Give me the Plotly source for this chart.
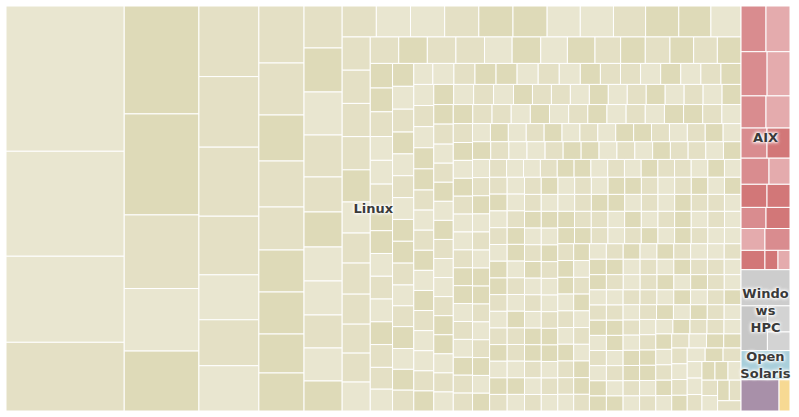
import plotly.graph_objects as go

# ---------------- data (Rmax, TFlop/s) ----------------
group_names = ["Linux", "AIX", "Windows HPC", "Open Solaris", "Super-UX", "Other"]
group_text = ["Linux", "AIX", "Windo<br>ws<br>HPC", "Open<br>Solaris", "", ""]

linux_big = [
    1759.0, 1271.0, 1042.0, 831.7,
    825.5, 772.7, 563.1, 478.2, 458.6,
    433.5, 433.2, 423.9, 360.0, 276.0, 282.0, 278.0,
    263.7, 240.6, 212.8, 212.8, 198.9, 194.3, 194.3, 180.4, 175.8,
    164.0, 171.9, 168.0, 164.0, 136.7, 136.7, 132.8, 132.8, 128.9, 128.9, 117.2,
    108.4, 108.4, 108.4, 108.4, 108.4, 108.4, 105.2, 105.2, 102.0, 105.2, 102.0, 95.6,
    95.6, 95.6, 95.6, 95.6, 92.5, 89.4, 86.4, 89.4, 86.4, 83.3, 83.3, 83.3, 77.1,
    77.5, 77.5, 77.5, 74.8, 77.5, 72.2, 74.8, 69.5, 66.8, 66.8, 64.2, 64.2, 64.2, 56.1,
    54.3, 56.5, 54.3, 54.3, 52.0, 54.3, 52.0, 52.0, 52.0, 52.0, 52.0, 52.0, 49.8, 49.8, 49.8,
]
linux_mid = [
    49.7, 49.7, 47.5, 47.5, 47.5, 47.5, 47.5, 47.5, 47.5, 45.3, 45.3, 47.5, 45.3, 45.3, 45.3, 41.0,
    45.3, 45.3, 45.3, 45.3, 45.3, 45.3, 45.3, 43.2, 43.2, 43.2, 43.2, 43.2, 43.2, 43.2, 43.2, 43.2,
    43.2, 43.2, 43.2, 43.2, 41.1, 41.1, 41.1, 41.1, 41.1, 41.1, 41.1, 41.1, 41.1, 41.1, 41.1, 41.1,
    41.1, 41.1, 41.1, 39.1, 39.1, 39.1, 39.1, 39.1, 39.1, 39.1, 39.1, 39.1, 39.1, 39.1, 39.1, 39.1,
    40.0, 38.1, 38.1, 38.1, 38.1, 38.1, 38.1, 38.1, 38.1, 38.1, 38.1, 38.1, 38.1, 38.1, 38.1, 38.1,
    37.6, 37.4, 37.4, 37.4, 37.4, 37.4, 37.4, 37.4, 37.4, 37.4, 37.4, 37.4, 37.4, 37.4, 37.2,
    35.3, 35.3, 35.3, 35.3, 35.3, 35.3, 35.3, 35.3, 35.3, 35.3, 35.3, 35.3, 35.3, 35.3, 35.3,
    33.2, 33.2, 33.2, 33.2, 33.2, 33.2, 33.2, 33.2, 33.2, 33.2, 33.2, 33.2, 33.2, 33.2, 33.2,
]
linux_tail = [
    33.0, 32.9, 32.8, 32.8, 32.7, 32.6, 32.5, 32.4, 32.4, 32.3, 32.2, 32.1, 32.0, 32.0, 31.9,
    31.8, 31.8, 31.7, 31.6, 31.6, 31.5, 31.5, 31.4, 31.3, 31.3, 31.2, 31.2, 31.1, 31.1, 31.0,
    30.9, 30.9, 30.8, 30.8, 30.7, 30.7, 30.6, 30.6, 30.5, 30.5, 30.4, 30.4, 30.4, 30.3, 30.3,
    30.2, 30.2, 30.2, 30.1, 30.1, 30.0, 30.0, 30.0, 29.9, 29.9, 29.9, 29.8, 29.8, 29.8, 29.7,
    29.7, 29.7, 29.6, 29.6, 29.6, 29.6, 29.5, 29.5, 29.5, 29.5,
    29.4, 29.4, 29.4, 29.4, 29.3, 29.3, 29.3, 29.3, 29.2, 29.2, 29.2, 29.2, 29.1, 29.1, 29.1,
    29.1, 29.0, 29.0, 29.0, 29.0, 28.9, 28.9, 28.9, 28.9, 28.8, 28.8, 28.8, 28.8, 28.7, 28.7,
    28.7, 28.7, 28.6, 28.6, 28.6, 28.6, 28.5, 28.5, 28.5, 28.4, 28.4, 28.4, 28.3, 28.3, 28.2,
    28.2, 28.1, 28.1, 28.0, 28.0,
    27.9, 27.9, 27.9, 27.9, 27.8, 27.8, 27.8, 27.8, 27.7, 27.7, 27.7, 27.7, 27.6, 27.6, 27.6,
    27.6, 27.5, 27.5, 27.5, 27.5, 27.4, 27.4, 27.4, 27.4, 27.3, 27.3, 27.3, 27.3, 27.2, 27.2,
    27.2, 27.2, 27.1, 27.1, 27.1, 27.1, 27.0, 27.0, 27.0, 27.0, 26.9, 26.9, 26.9, 26.9, 26.9,
    26.8, 26.8, 26.8, 26.8, 26.8,
    26.7, 26.7, 26.7, 26.7, 26.6, 26.6, 26.6, 26.6, 26.5, 26.5, 26.5, 26.5, 26.4, 26.4, 26.4,
    26.4, 26.3, 26.3, 26.3, 26.3, 26.2, 26.2, 26.2, 26.2, 26.1, 26.1, 26.1, 26.1, 26.0, 26.0,
    26.0, 26.0, 25.9, 25.9, 25.9, 25.9, 25.8, 25.8, 25.8, 25.8, 25.7, 25.7, 25.7, 25.7, 25.7,
    25.6, 25.6, 25.6, 25.6, 25.6,
    25.5, 25.5, 25.5, 25.5, 25.5, 25.4, 25.4, 25.4, 25.4, 25.4, 25.3, 25.3, 25.3, 25.3, 25.3,
    25.2, 25.2, 25.2, 25.2, 25.2, 25.1, 25.1, 25.1, 25.1, 25.1, 25.0, 25.0, 25.0, 25.0, 25.0,
    24.9, 24.9, 24.9, 24.9, 24.9, 24.8, 24.8, 24.8, 24.8, 24.8, 24.7, 24.7, 24.7, 24.7, 24.7,
]
linux_values = linux_big + linux_mid + linux_tail

aix_values = [116.9, 112.3, 118.0, 103.6, 82.2, 79.0, 80.2, 70.9, 74.8, 56.1,
              61.5, 54.4, 54.0, 51.8, 53.5, 47.3, 56.1, 25.9, 23.7]
windows_values = [181.3, 120.9, 60.4, 43.2]
solaris_values = [146.0]
superux_values = [121.7]
other_values = [35.0]

group_values = [linux_values, aix_values, windows_values,
                solaris_values, superux_values, other_values]

# ---------------- styling ----------------
palettes = {
    "Linux": ["#e9e6d0", "#e4e0c5", "#dedab8"],
    "AIX": ["#e4abad", "#d98c8f", "#d27778"],
    "Windows HPC": ["#d3d3d3", "#cdcdcd", "#c7c7c7"],
    "Open Solaris": ["#a9cfdb", "#a9cfdb", "#a9cfdb"],
    "Super-UX": ["#a890a9", "#a890a9", "#a890a9"],
    "Other": ["#f7d993", "#f7d993", "#f7d993"],
}
# shade index (0 light, 1 mid, 2 dark) for the first, larger Linux cells
linux_first_shades = (
    [0, 0, 0, 1] + [2, 2, 1, 0, 2] + [1, 1, 1, 1, 0, 1, 0]
    + [1, 1, 2, 1, 1, 2, 2, 2, 2] + [1, 2, 0, 1, 1, 2, 0, 0, 1, 0, 2]
    + [1, 0, 0, 1, 2, 2, 0, 0, 1, 2, 2, 0]
    + [1, 1, 1, 1, 2, 0, 1, 1, 1, 1, 1, 0, 1]
    + [2, 1, 1, 0, 2, 0, 2, 1, 2, 1, 2, 1, 2, 2]
)
linux_shade_cycle = "0211020120102210120210012201"
aix_shades = [1, 0, 1, 0, 1, 0, 1, 2, 1, 0, 2, 2, 1, 2, 0, 2, 1, 2, 0]
windows_shades = [1, 2, 0, 0]

ids, labels, parents, values, colors = [], [], [], [], []
for g, vals in zip(group_names, group_values):
    pal = palettes[g]
    ids.append(g); labels.append(g); parents.append(""); values.append(0)
    colors.append(pal[1])
    for i, v in enumerate(vals):
        ids.append(f"{g} / {i + 1}")
        labels.append(f"{g} system {i + 1}")
        parents.append(g)
        values.append(v)
        if g == "Linux":
            if i < len(linux_first_shades):
                s = linux_first_shades[i]
            else:
                s = int(linux_shade_cycle[i % len(linux_shade_cycle)])
        elif g == "AIX":
            s = aix_shades[i]
        elif g == "Windows HPC":
            s = windows_shades[i]
        else:
            s = 0
        colors.append(pal[s])

common = dict(
    tiling=dict(packing="squarify", squarifyratio=1, pad=0),
    pathbar=dict(visible=False),
    sort=False,
    domain=dict(x=[0, 1], y=[0, 1]),
)

cells = go.Treemap(
    ids=ids, labels=labels, parents=parents, values=values,
    branchvalues="remainder",
    marker=dict(colors=colors, line=dict(color="white", width=1),
                pad=dict(t=0, l=0, r=0, b=0)),
    textinfo="none",
    hovertemplate="%{label}<br>%{value} TFlop/s<extra></extra>",
    **common,
)

group_totals = [sum(v) for v in group_values]
group_layer = go.Treemap(
    ids=group_names, labels=group_names, parents=[""] * len(group_names),
    values=group_totals, text=group_text,
    textinfo="text", textposition="middle center",
    textfont=dict(family="DejaVu Sans, Verdana, sans-serif", size=13,
                  color="#3a3a3a", weight="bold",
                  shadow="0px 0px 4px white, 0px 0px 4px white, 0px 0px 3px white, 0px 0px 2px white"),
    marker=dict(colors=["rgba(0,0,0,0)"] * len(group_names),
                line=dict(width=0), pad=dict(t=0, l=0, r=0, b=0)),
    hoverinfo="skip",
    **common,
)

fig = go.Figure([cells, group_layer])
fig.update_layout(
    width=799, height=417,
    margin=dict(l=6, r=9, t=6, b=6),
    paper_bgcolor="white",
    uniformtext=dict(minsize=13, mode="show"),
    showlegend=False,
)
fig.write_html("out.html", config={"displayModeBar": False},
               post_script="document.body.style.margin='0px';")
